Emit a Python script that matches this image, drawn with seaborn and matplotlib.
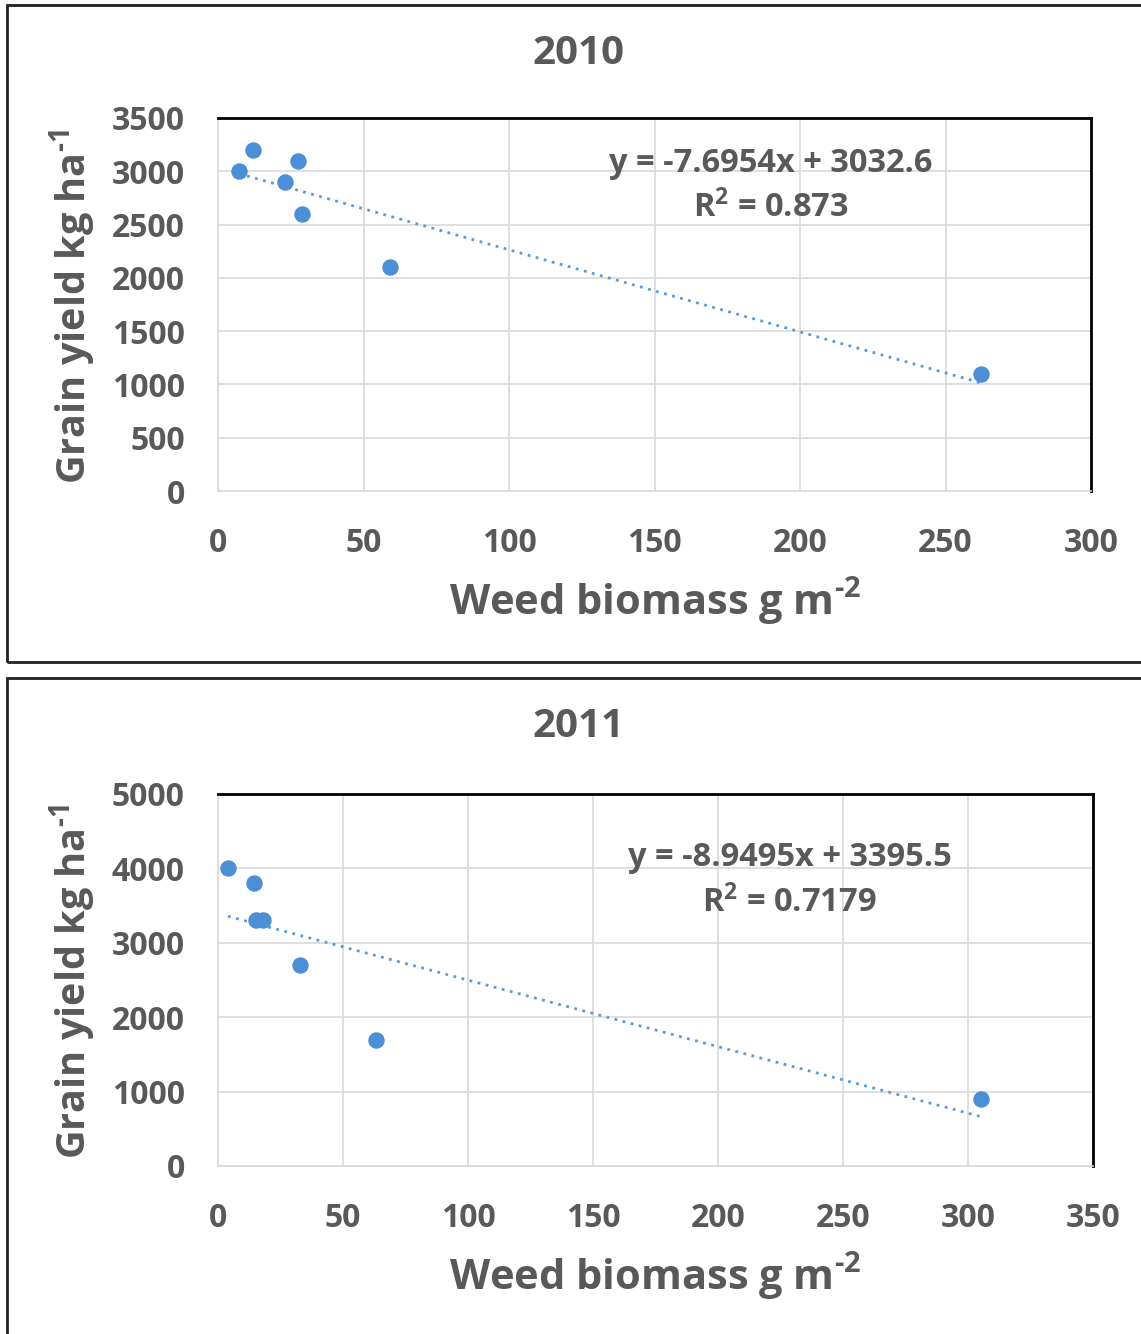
import matplotlib
matplotlib.use("Agg")
import matplotlib.pyplot as plt
import seaborn as sns
from matplotlib.patches import Rectangle

# 2010 data
biomass_2010 = [7.2, 12.0, 23.0, 27.5, 28.9, 59.1, 262.2]
yield_2010 = [3000, 3200, 2900, 3100, 2600, 2100, 1100]
eq_2010 = ["y = -7.6954x + 3032.6", "R$^{2}$ = 0.873"]

# 2011 data
biomass_2011 = [4.0, 14.4, 15.2, 18.0, 32.8, 63.2, 305.2]
yield_2011 = [4000, 3800, 3300, 3300, 2700, 1700, 900]
eq_2011 = ["y = -8.9495x + 3395.5", "R$^{2}$ = 0.7179"]

sns.set_style("white")
plt.rcParams['font.family'] = ['Open Sans', 'DejaVu Sans']
plt.rcParams['mathtext.default'] = 'bf'
plt.rcParams['mathtext.fontset'] = 'custom'
plt.rcParams['mathtext.bf'] = 'Open Sans:bold'
plt.rcParams['mathtext.rm'] = 'Open Sans:bold'

GREY = '#595959'
DOT = '#4A8FD8'

fig = plt.figure(figsize=(11.41, 13.34), dpi=100)


def draw_panel(rect, x, y, eq, xmax, ymax, ystep, title, title_y, xlabel_y, ylabel_y, eq_pos):
    ax = fig.add_axes(rect)
    sns.regplot(x=x, y=y, ax=ax, ci=None, truncate=True,
                scatter_kws={'s': 140, 'color': DOT, 'alpha': 1, 'linewidths': 0, 'zorder': 3},
                line_kws={'color': '#5B9BD5', 'ls': (0, (1, 2)), 'lw': 2, 'zorder': 2})
    ax.set_xlim(0, xmax)
    ax.set_ylim(0, ymax)
    ax.set_xticks(range(0, xmax + 1, 50))
    ax.set_yticks(range(0, ymax + 1, ystep))
    ax.grid(True, color='#d9d9d9', lw=1.2)
    ax.set_axisbelow(True)
    for s in ['top', 'right']:
        ax.spines[s].set_color('black')
        ax.spines[s].set_linewidth(2)
    for s in ['left', 'bottom']:
        ax.spines[s].set_color('#d9d9d9')
        ax.spines[s].set_linewidth(1.2)
    ax.tick_params(axis='x', length=0, pad=26, labelsize=23, labelcolor=GREY)
    ax.tick_params(axis='y', length=0, pad=24, labelsize=23, labelcolor=GREY)
    for lab in ax.get_xticklabels() + ax.get_yticklabels():
        lab.set_fontweight('bold')
    ax.set_xlabel('')
    ax.set_ylabel('')
    ax.text(eq_pos[0], eq_pos[1], eq[0], transform=ax.transAxes, ha='center', va='center',
            fontsize=23.5, fontweight='bold', color=GREY)
    ax.text(eq_pos[0], eq_pos[2], eq[1], transform=ax.transAxes, ha='center', va='center',
            fontsize=23.5, fontweight='bold', color=GREY)
    fig.text(578 / 1141, 1 - title_y / 1334, title, ha='center', va='center',
             fontsize=29, fontweight='bold', color=GREY)
    fig.text(655 / 1141, 1 - xlabel_y / 1334, r'Weed biomass g m$^{\text{-2}}$', ha='center', va='center',
             fontsize=30, fontweight='bold', color=GREY)
    fig.text(73 / 1141, 1 - ylabel_y / 1334, r'Grain yield kg ha$^{\text{-1}}$', ha='center', va='center',
             rotation=90, fontsize=28.5, fontweight='bold', color=GREY)
    return ax


draw_panel([218 / 1141, 1 - 491 / 1334, 873 / 1141, 373 / 1334],
           biomass_2010, yield_2010, eq_2010, 300, 3500, 500,
           '2010', 53, 601, 307, (0.633, 0.879, 0.759))
draw_panel([218 / 1141, 1 - 1166 / 1334, 875 / 1141, 372 / 1334],
           biomass_2011, yield_2011, eq_2011, 350, 5000, 1000,
           '2011', 727, 1276, 982, (0.653, 0.828, 0.707))

# panel borders
fig.add_artist(Rectangle((7 / 1141, 1 - 662 / 1334), 1.2, 657 / 1334, transform=fig.transFigure,
                         fill=False, ec='#222222', lw=2))
fig.add_artist(Rectangle((7 / 1141, -0.1), 1.2, 0.1 + 656 / 1334, transform=fig.transFigure,
                         fill=False, ec='#222222', lw=2))

fig.savefig('out.png', dpi=100)
